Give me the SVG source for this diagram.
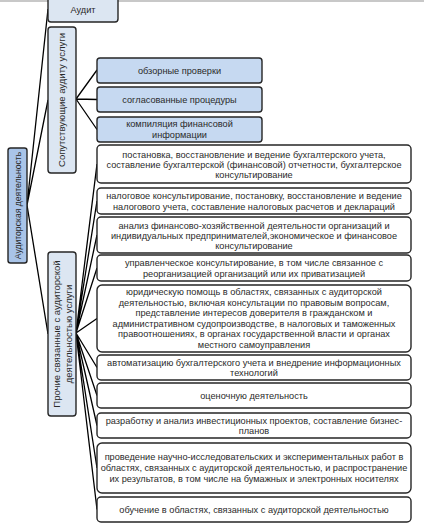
<svg xmlns="http://www.w3.org/2000/svg" width="424" height="527" viewBox="0 0 424 527">
<style>
  .box{stroke:#262626;stroke-width:1.4}
  .root{fill:#a9c4e8}
  .lvl1{fill:#dce6f2}
  .blue{fill:#c6d9f1}
  .white{fill:#ffffff}
  .t{font-family:"Liberation Sans",Arial,sans-serif;font-size:9.2px;fill:#2a2a2a;text-anchor:middle}
  .tv{font-family:"Liberation Sans",Arial,sans-serif;font-size:9.5px;fill:#2a2a2a;text-anchor:middle}
  .tr{font-family:"Liberation Sans",Arial,sans-serif;font-size:8.6px;fill:#2a2a2a;text-anchor:middle}
  .c{stroke:#000;stroke-width:1.3;fill:none}
</style>
<rect width="424" height="527" fill="#ffffff"/>
<line x1="0" y1="1" x2="424" y2="1" stroke="#c8c8c8" stroke-width="2"/>
<g id="connectors">
  <path class="c" d="M27,205 L48,9 M27,205 L48,100 M27,205 L48,334"/>
  <path class="c" d="M76,99 L97,70 M76,99 L97,99.5 M76,99 L97,129.5"/>
  <path class="c" d="M76,333 L97,164 M76,333 L97,201 M76,333 L97,235 M76,333 L97,268 M76,333 L97,318.5 M76,333 L97,367.5 M76,333 L97,395.5 M76,333 L97,425.5 M76,333 L97,468 M76,333 L97,509.5"/>
</g>
<g id="root">
  <rect class="box root" x="8" y="148" width="19" height="115" rx="2.5"/>
  <text class="tr" transform="translate(20.5,205.5) rotate(-90)">Аудиторская деятельность</text>
</g>
<g id="audit">
  <rect class="box lvl1" x="48" y="-5" width="70" height="27" rx="3"/>
  <text class="t" x="83" y="12.5">Аудит</text>
</g>
<g id="related">
  <rect class="box lvl1" x="48" y="27" width="28" height="146" rx="3"/>
  <text class="tv" transform="translate(65.2,100) rotate(-90)">Сопутствующие аудиту услуги</text>
</g>
<g id="other">
  <rect class="box lvl1" x="48" y="252" width="28" height="164" rx="3"/>
  <text class="tv" transform="translate(60,334) rotate(-90)">Прочие связанные с аудиторской</text>
  <text class="tv" transform="translate(71.5,334) rotate(-90)">деятельностью услуги</text>
</g>
<g id="b1">
  <rect class="box blue" x="97" y="58" width="165" height="25" rx="3"/>
  <text class="t" x="179.5" y="73.5">обзорные проверки</text>
</g>
<g id="b2">
  <rect class="box blue" x="97" y="87" width="165" height="25" rx="3"/>
  <text class="t" x="179.5" y="102.5">согласованные процедуры</text>
</g>
<g id="b3">
  <rect class="box blue" x="97" y="117" width="165" height="25" rx="3"/>
  <text class="t" x="179.5" y="127">компиляция финансовой</text>
  <text class="t" x="179.5" y="137.5">информации</text>
</g>
<g id="w1">
  <rect class="box white" x="97" y="145" width="314" height="38" rx="4"/>
  <text class="t" x="254" y="157.5">постановка, восстановление и ведение бухгалтерского учета,</text>
  <text class="t" x="254" y="167.8">составление бухгалтерской (финансовой) отчетности, бухгалтерское</text>
  <text class="t" x="254" y="178">консультирование</text>
</g>
<g id="w2">
  <rect class="box white" x="97" y="188" width="314" height="26" rx="4"/>
  <text class="t" x="254" y="199">налоговое консультирование, постановку, восстановление и ведение</text>
  <text class="t" x="254" y="209.7">налогового учета, составление налоговых расчетов и деклараций</text>
</g>
<g id="w3">
  <rect class="box white" x="97" y="217" width="314" height="36" rx="4"/>
  <text class="t" x="254" y="228.5">анализ финансово-хозяйственной  деятельности организаций и</text>
  <text class="t" x="254" y="238.8">индивидуальных предпринимателей,экономическое и финансовое</text>
  <text class="t" x="254" y="249">консультирование</text>
</g>
<g id="w4">
  <rect class="box white" x="97" y="255" width="314" height="26" rx="4"/>
  <text class="t" x="254" y="266">управленческое консультирование, в том числе связанное с</text>
  <text class="t" x="254" y="276.7">реорганизацией организаций или их приватизацией</text>
</g>
<g id="w5">
  <rect class="box white" x="97" y="285" width="314" height="67" rx="5"/>
  <text class="t" x="254" y="295">юридическую помощь в областях, связанных с аудиторской</text>
  <text class="t" x="254" y="305.5">деятельностью, включая консультации по правовым вопросам,</text>
  <text class="t" x="254" y="316">представление интересов доверителя в гражданском и</text>
  <text class="t" x="254" y="326.5">административном судопроизводстве,  в налоговых и таможенных</text>
  <text class="t" x="254" y="337">правоотношениях, в органах государственной власти и органах</text>
  <text class="t" x="254" y="347.5">местного самоуправления</text>
</g>
<g id="w6">
  <rect class="box white" x="97" y="355" width="314" height="25" rx="4"/>
  <text class="t" x="254" y="365.5">автоматизацию бухгалтерского учета и внедрение  информационных</text>
  <text class="t" x="254" y="376.2">технологий</text>
</g>
<g id="w7">
  <rect class="box white" x="97" y="383" width="314" height="25" rx="4"/>
  <text class="t" x="254" y="398.5">оценочную деятельность</text>
</g>
<g id="w8">
  <rect class="box white" x="97" y="413" width="314" height="25" rx="4"/>
  <text class="t" x="254" y="423.5">разработку и анализ инвестиционных проектов, составление бизнес-</text>
  <text class="t" x="254" y="434.2">планов</text>
</g>
<g id="w9">
  <rect class="box white" x="97" y="443" width="314" height="50" rx="5"/>
  <text class="t" x="254" y="460">проведение научно-исследовательских и экспериментальных работ в</text>
  <text class="t" x="254" y="471">областях, связанных с аудиторской деятельностью, и распространение</text>
  <text class="t" x="254" y="482">их результатов, в том числе на бумажных и электронных носителях</text>
</g>
<g id="w10">
  <rect class="box white" x="97" y="497" width="314" height="25" rx="4"/>
  <text class="t" x="254" y="512.5">обучение в областях, связанных с аудиторской деятельностью</text>
</g>
</svg>
